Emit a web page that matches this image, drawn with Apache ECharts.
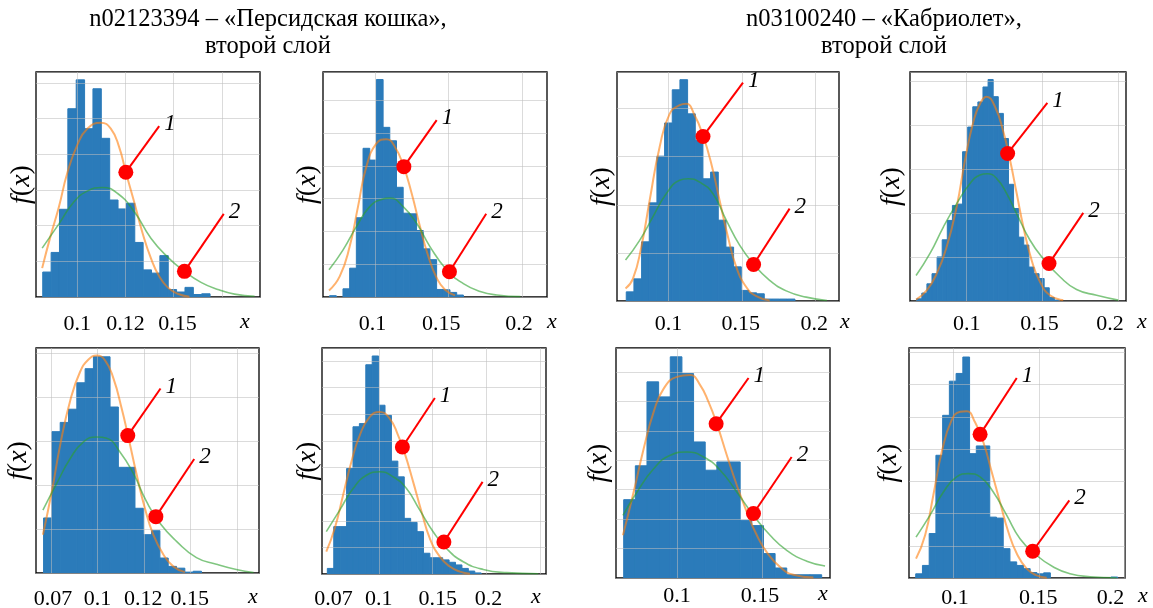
<!DOCTYPE html>
<html><head><meta charset="utf-8">
<script src="https://cdn.jsdelivr.net/npm/echarts@6/dist/echarts.min.js"></script>
<style>html,body{margin:0;padding:0;background:#fff}#c{width:1153px;height:608px}</style>
</head><body><div id="c"></div>
<script>
// ---------- titles ----------
const titleLeft = 'n02123394 – «Персидская кошка»,\nвторой слой';
const titleRight = 'n03100240 – «Кабриолет»,\nвторой слой';

// ---------- panel 1 ----------
const p1BinStart = 0.0821, p1BinWidth = 0.00434;
const p1Counts = [0.70,1.25,2.46,5.28,6.09,4.72,5.84,4.45,2.72,2.47,2.63,1.53,0.76,0.67,1.16,0.21,0.14,0.27,0.07,0.09];
const p1OrangeX = [0.0818,0.0861,0.0905,0.0948,0.1000,0.1052,0.1122,0.1174,0.1217,0.1252,0.1295,0.1339,0.1382,0.1425,0.1469,0.1521,0.1582];
const p1OrangeY = [0.81,1.70,2.53,3.47,4.26,4.72,4.89,4.72,4.21,3.50,2.67,1.79,1.09,0.58,0.27,0.09,0.01];
const p1GreenX = [0.0818,0.0905,0.0983,0.1052,0.1130,0.1208,0.1295,0.1382,0.1469,0.1556,0.1642,0.1729,0.1816,0.1920];
const p1GreenY = [1.37,2.05,2.67,2.97,3.07,2.91,2.40,1.65,1.12,0.72,0.41,0.21,0.08,0.02];
const p1Marker1 = [0.1252,3.50], p1Label1 = [0.1425,4.79], p1Marker2 = [0.1556,0.72], p1Label2 = [0.1760,2.33];
const p1TickValues = [0.1,0.125,0.152], p1TickLabels = ['0.1','0.12','0.15'], p1GridX = [0.1,0.125,0.15,0.175];

// ---------- panel 2 ----------
const p2BinStart = 0.0687, p2BinWidth = 0.004566;
const p2Counts = [0.04,0,0.25,0.88,2.42,4.54,4.18,6.64,5.18,4.77,3.35,2.56,2.54,2.03,1.47,1.14,0.23,0.22,0.14,0.06];
const p2OrangeX = [0.0683,0.0756,0.0824,0.0881,0.0938,0.1007,0.1075,0.1132,0.1189,0.1247,0.1304,0.1361,0.1418,0.1475,0.1543];
const p2OrangeY = [0.20,0.63,1.54,2.76,3.98,4.69,4.82,4.59,4.03,3.17,2.15,1.24,0.58,0.22,0.05];
const p2GreenX = [0.0683,0.0779,0.0870,0.0961,0.1041,0.1098,0.1189,0.1281,0.1372,0.1486,0.1600,0.1715,0.1829,0.1989];
const p2GreenY = [0.83,1.44,2.15,2.76,2.98,3.02,2.76,2.25,1.54,0.83,0.41,0.17,0.06,0.01];
const p2Marker1 = [0.1194,3.98], p2Label1 = [0.1418,5.40], p2Marker2 = [0.1505,0.77], p2Label2 = [0.1756,2.54];
const p2TickValues = [0.098,0.145,0.198], p2TickLabels = ['0.1','0.15','0.2'], p2GridX = [0.1,0.15,0.2];

// ---------- panel 3 ----------
const p3BinStart = 0.0712, p3BinWidth = 0.005215;
const p3Counts = [0.19,0.46,1.23,2.04,3.01,3.70,4.39,4.60,3.89,3.34,2.54,2.68,1.68,1.12,0.71,0.22,0.17,0.15,0.04,0.04,0.04,0.04];
const p3OrangeX = [0.0707,0.0757,0.0814,0.0871,0.0939,0.1007,0.1075,0.1120,0.1177,0.1234,0.1290,0.1347,0.1404,0.1460,0.1528,0.1596,0.1687];
const p3OrangeY = [0.26,0.46,1.12,2.09,3.20,3.89,4.07,4.10,3.86,3.44,2.86,2.09,1.33,0.71,0.29,0.10,0.01];
const p3GreenX = [0.0707,0.0803,0.0893,0.0984,0.1075,0.1132,0.1211,0.1302,0.1392,0.1483,0.1574,0.1687,0.1800,0.1936,0.2077];
const p3GreenY = [0.85,1.26,1.75,2.23,2.51,2.54,2.47,2.23,1.68,1.16,0.78,0.43,0.21,0.08,0.01];
const p3Marker1 = [0.1234,3.42], p3Label1 = [0.1506,4.54], p3Marker2 = [0.1578,0.76], p3Label2 = [0.1823,1.92];
const p3TickValues = [0.1,0.149,0.199], p3TickLabels = ['0.1','0.15','0.2'], p3GridX = [0.1,0.15,0.2];

// ---------- panel 4 ----------
const p4BinStart = 0.06703, p4BinWidth = 0.003363;
const p4Counts = [0.05,0.18,0.39,0.62,1.00,1.39,1.83,2.17,2.20,3.39,3.95,4.41,4.52,4.86,5.03,4.64,4.26,3.69,2.65,2.10,1.45,1.27,0.77,0.62,0.51,0.30,0.08,0.02];
const p4OrangeX = [0.0666,0.0736,0.0802,0.0868,0.0934,0.0989,0.1044,0.1088,0.1132,0.1187,0.1242,0.1286,0.1330,0.1374,0.1429,0.1484,0.1549,0.1637];
const p4OrangeY = [0.03,0.24,0.62,1.23,2.14,3.20,4.07,4.48,4.64,4.41,3.84,3.20,2.44,1.68,0.92,0.43,0.13,0.02];
const p4GreenX = [0.0666,0.0758,0.0846,0.0934,0.1022,0.1088,0.1136,0.1198,0.1264,0.1330,0.1418,0.1505,0.1615,0.1725,0.1857,0.2000];
const p4GreenY = [0.58,1.08,1.68,2.21,2.67,2.86,2.89,2.78,2.44,1.98,1.38,0.96,0.55,0.26,0.13,0.02];
const p4Marker1 = [0.1270,3.35], p4Label1 = [0.1532,4.50], p4Marker2 = [0.1543,0.85], p4Label2 = [0.1769,2.00];
const p4TickValues = [0.1,0.148,0.1945], p4TickLabels = ['0.1','0.15','0.2'], p4GridX = [0.1,0.15,0.2];

// ---------- panel 5 ----------
const p5BinStart = 0.07107, p5BinWidth = 0.004464;
const p5Counts = [1.25,3.21,3.42,3.72,4.32,4.64,4.91,4.91,3.77,2.40,2.40,1.47,0.87,0.96,0.34,0.15,0.11,0.02,0.04];
const p5OrangeX = [0.0707,0.0755,0.0800,0.0854,0.0907,0.0952,0.0996,0.1041,0.1086,0.1130,0.1166,0.1211,0.1255,0.1300,0.1354,0.1407,0.1470];
const p5OrangeY = [0.87,1.85,2.91,3.92,4.57,4.85,4.94,4.83,4.42,3.74,3.09,2.23,1.47,0.87,0.42,0.15,0.02];
const p5GreenX = [0.0707,0.0782,0.0854,0.0925,0.0996,0.1050,0.1121,0.1193,0.1264,0.1336,0.1425,0.1532,0.1639,0.1746,0.1839];
const p5GreenY = [1.43,2.04,2.60,2.98,3.09,3.06,2.75,2.26,1.62,1.13,0.72,0.35,0.20,0.08,0.01];
const p5Marker1 = [0.1163,3.12], p5Label1 = [0.1339,4.19], p5Marker2 = [0.1314,1.28], p5Label2 = [0.1520,2.59];
const p5TickValues = [0.0761,0.1,0.1246,0.1496], p5TickLabels = ['0.07','0.1','0.12','0.15'], p5GridX = [0.075,0.1,0.125,0.15,0.175];

// ---------- panel 6 ----------
const p6BinStart = 0.05217, p6BinWidth = 0.005963;
const p6Counts = [0.21,1.78,1.78,3.96,5.53,5.65,7.86,8.19,6.34,5.96,4.24,3.65,2.09,1.94,1.59,0.78,0.61,0.61,0.53,0.44,0.34,0.21,0.11,0.04];
const p6OrangeX = [0.0512,0.0590,0.0668,0.0745,0.0823,0.0916,0.1009,0.1102,0.1180,0.1242,0.1320,0.1398,0.1475,0.1568,0.1661,0.1755,0.1848];
const p6OrangeY = [0.84,1.71,2.96,4.21,5.21,5.90,6.09,5.84,5.21,4.53,3.46,2.34,1.34,0.65,0.28,0.09,0.01];
const p6GreenX = [0.0512,0.0637,0.0761,0.0885,0.1009,0.1134,0.1258,0.1382,0.1506,0.1630,0.1786,0.1972,0.2189,0.2484];
const p6GreenY = [1.59,2.40,3.21,3.71,3.84,3.65,3.21,2.40,1.59,0.96,0.46,0.17,0.05,0.01];
const p6Marker1 = [0.1220,4.77], p6Label1 = [0.1522,6.61], p6Marker2 = [0.1606,1.20], p6Label2 = [0.1966,3.46];
const p6TickValues = [0.058,0.1,0.155,0.202], p6TickLabels = ['0.07','0.1','0.15','0.2'], p6GridX = [0.1,0.15,0.2,0.25];

// ---------- panel 7 ----------
const p7BinStart = 0.06863, p7BinWidth = 0.006863;
const p7Counts = [2.66,3.81,6.66,6.15,7.51,6.94,4.62,3.66,3.94,3.94,1.96,1.78,0.83,0.34,0.11,0.11,0.11];
const p7OrangeX = [0.0682,0.0745,0.0804,0.0863,0.0922,0.1000,0.1078,0.1137,0.1186,0.1235,0.1294,0.1353,0.1412,0.1471,0.1529,0.1608,0.1686,0.1804];
const p7OrangeY = [1.45,2.92,4.39,5.64,6.43,6.83,6.89,6.55,5.98,5.24,4.17,3.15,2.24,1.45,0.88,0.37,0.11,0.02];
const p7GreenX = [0.0682,0.0765,0.0863,0.0961,0.1059,0.1157,0.1255,0.1353,0.1451,0.1549,0.1647,0.1765,0.1873];
const p7GreenY = [2.13,2.92,3.71,4.17,4.28,4.11,3.66,2.92,2.13,1.45,0.94,0.57,0.41];
const p7Marker1 = [0.1231,5.24], p7Label1 = [0.1422,6.79], p7Marker2 = [0.1451,2.19], p7Label2 = [0.1676,4.11];
const p7TickValues = [0.1,0.149], p7TickLabels = ['0.1','0.15'], p7GridX = [0.1,0.15];

// ---------- panel 8 ----------
const p8BinStart = 0.07802, p8BinWidth = 0.00393;
const p8Counts = [0.13,0.39,1.38,3.81,5.05,6.11,6.35,6.86,3.86,4.10,4.10,1.89,1.86,0.91,0.50,0.39,0.29,0.17,0.13,0.16,0,0,0,0,0,0,0,0,0,0.03];
const p8OrangeX = [0.0782,0.0835,0.0883,0.0932,0.0990,0.1039,0.1078,0.1126,0.1175,0.1224,0.1272,0.1321,0.1370,0.1428,0.1486,0.1545];
const p8OrangeY = [0.60,1.33,2.57,3.91,4.90,5.16,5.18,4.84,4.22,3.29,2.36,1.43,0.76,0.29,0.08,0.01];
const p8GreenX = [0.0782,0.0864,0.0942,0.1019,0.1088,0.1156,0.1233,0.1311,0.1389,0.1486,0.1584,0.1681,0.1798,0.1953];
const p8GreenY = [1.27,1.95,2.67,3.14,3.24,3.14,2.67,1.95,1.22,0.70,0.34,0.13,0.04,0.01];
const p8Marker1 = [0.1156,4.46], p8Label1 = [0.1370,6.21], p8Marker2 = [0.1463,0.83], p8Label2 = [0.1677,2.41];
const p8TickValues = [0.101,0.1496,0.1918], p8TickLabels = ['0.1','0.15','0.2'], p8GridX = [0.1,0.15,0.2];

// ---------- layout (pixels & axis ranges) ----------
const LAYOUT = [
  {left:36,  top:72,  width:224, height:225, xMin:0.0786, xMax:0.1948, yMax:6.31, margin:16, xGap:-20, xPad:14, yGap:0},
  {left:323, top:72,  width:224, height:225, xMin:0.0642, xMax:0.2171, yMax:6.87, margin:16, xGap:0,   xPad:14, yGap:1},
  {left:617, top:72,  width:222, height:229, xMin:0.0649, xMax:0.2159, yMax:4.76, margin:12, xGap:1,   xPad:10, yGap:1},
  {left:910, top:72,  width:216, height:229, xMin:0.0626, xMax:0.2051, yMax:5.20, margin:12, xGap:11,  xPad:10, yGap:4},
  {left:36,  top:348, width:223, height:225, xMin:0.0670, xMax:0.1868, yMax:5.11, margin:15, xGap:-11, xPad:13, yGap:3},
  {left:322, top:348, width:224, height:226, xMin:0.0472, xMax:0.2556, yMax:8.49, margin:14, xGap:-15, xPad:12, yGap:0},
  {left:616, top:348, width:214, height:230, xMin:0.0641, xMax:0.1902, yMax:7.81, margin:7,  xGap:-12, xPad:5,  yGap:3},
  {left:909, top:348, width:216, height:230, xMin:0.0741, xMax:0.2002, yMax:7.14, margin:9,  xGap:13,  xPad:7,  yGap:6}
];

const PANELS = [
  {bs:p1BinStart,bw:p1BinWidth,counts:p1Counts,ox:p1OrangeX,oy:p1OrangeY,gx:p1GreenX,gy:p1GreenY,m1:p1Marker1,l1:p1Label1,m2:p1Marker2,l2:p1Label2,tv:p1TickValues,tl:p1TickLabels,grid:p1GridX},
  {bs:p2BinStart,bw:p2BinWidth,counts:p2Counts,ox:p2OrangeX,oy:p2OrangeY,gx:p2GreenX,gy:p2GreenY,m1:p2Marker1,l1:p2Label1,m2:p2Marker2,l2:p2Label2,tv:p2TickValues,tl:p2TickLabels,grid:p2GridX},
  {bs:p3BinStart,bw:p3BinWidth,counts:p3Counts,ox:p3OrangeX,oy:p3OrangeY,gx:p3GreenX,gy:p3GreenY,m1:p3Marker1,l1:p3Label1,m2:p3Marker2,l2:p3Label2,tv:p3TickValues,tl:p3TickLabels,grid:p3GridX},
  {bs:p4BinStart,bw:p4BinWidth,counts:p4Counts,ox:p4OrangeX,oy:p4OrangeY,gx:p4GreenX,gy:p4GreenY,m1:p4Marker1,l1:p4Label1,m2:p4Marker2,l2:p4Label2,tv:p4TickValues,tl:p4TickLabels,grid:p4GridX},
  {bs:p5BinStart,bw:p5BinWidth,counts:p5Counts,ox:p5OrangeX,oy:p5OrangeY,gx:p5GreenX,gy:p5GreenY,m1:p5Marker1,l1:p5Label1,m2:p5Marker2,l2:p5Label2,tv:p5TickValues,tl:p5TickLabels,grid:p5GridX},
  {bs:p6BinStart,bw:p6BinWidth,counts:p6Counts,ox:p6OrangeX,oy:p6OrangeY,gx:p6GreenX,gy:p6GreenY,m1:p6Marker1,l1:p6Label1,m2:p6Marker2,l2:p6Label2,tv:p6TickValues,tl:p6TickLabels,grid:p6GridX},
  {bs:p7BinStart,bw:p7BinWidth,counts:p7Counts,ox:p7OrangeX,oy:p7OrangeY,gx:p7GreenX,gy:p7GreenY,m1:p7Marker1,l1:p7Label1,m2:p7Marker2,l2:p7Label2,tv:p7TickValues,tl:p7TickLabels,grid:p7GridX},
  {bs:p8BinStart,bw:p8BinWidth,counts:p8Counts,ox:p8OrangeX,oy:p8OrangeY,gx:p8GreenX,gy:p8GreenY,m1:p8Marker1,l1:p8Label1,m2:p8Marker2,l2:p8Label2,tv:p8TickValues,tl:p8TickLabels,grid:p8GridX}
];

const FONT = '"Liberation Serif", "Times New Roman", serif';
const BAR_COLOR = '#2b7bba';
const GRID_COLOR = 'rgba(190,190,190,0.55)';

function zip(xs, ys) { return xs.map((x, i) => [x, ys[i]]); }

function renderHist(params, api) {
  const x0 = api.value(0), x1 = api.value(1), h = api.value(2);
  if (!(h > 0)) return null;
  const a = api.coord([x0, h]);
  const b = api.coord([x1, 0]);
  return {
    type: 'rect',
    shape: {x: a[0], y: a[1], width: b[0] - a[0], height: b[1] - a[1]},
    style: {fill: BAR_COLOR, stroke: BAR_COLOR, lineWidth: 1}
  };
}

const grids = [], xAxes = [], yAxes = [], series = [];
PANELS.forEach((p, i) => {
  const L = LAYOUT[i];
  grids.push({left: L.left, top: L.top, width: L.width, height: L.height, show: true,
    borderColor: '#000', borderWidth: 1.3, backgroundColor: 'transparent', containLabel: false, outerBoundsMode: 'none'});
  xAxes.push({
    type: 'value', gridIndex: i, min: L.xMin, max: L.xMax, z: 3,
    axisLine: {show: false},
    axisTick: {show: false, customValues: p.grid},
    splitLine: {show: true, lineStyle: {color: GRID_COLOR, width: 1}},
    axisLabel: {
      customValues: p.tv, margin: L.margin, fontFamily: FONT, fontSize: 22, color: '#000',
      formatter: (v) => { const k = p.tv.findIndex(t => Math.abs(t - v) < 1e-9); return k >= 0 ? p.tl[k] : ''; }
    },
    name: 'x', nameLocation: 'end', nameGap: L.xGap,
    nameTextStyle: {fontFamily: FONT, fontStyle: 'italic', fontSize: 22, color: '#000', verticalAlign: 'top', align: 'left', padding: [L.xPad, 0, 0, 0]}
  });
  yAxes.push({
    type: 'value', gridIndex: i, min: 0, max: L.yMax, interval: 1, z: 3,
    axisLine: {show: false}, axisTick: {show: false}, axisLabel: {show: false},
    splitLine: {show: true, lineStyle: {color: GRID_COLOR, width: 1}},
    name: '{i|f}({i|x})', nameLocation: 'middle', nameGap: L.yGap,
    nameTextStyle: {fontFamily: FONT, fontSize: 28, color: '#000',
      rich: {i: {fontFamily: FONT, fontSize: 28, fontStyle: 'italic', color: '#000'}}}
  });
  const histData = p.counts.map((h, k) => [p.bs + k * p.bw, p.bs + (k + 1) * p.bw, h]);
  series.push({type: 'custom', xAxisIndex: i, yAxisIndex: i, z: 2, silent: true,
    renderItem: renderHist, encode: {x: [0, 1], y: 2}, data: histData, clip: true});
  series.push({type: 'line', xAxisIndex: i, yAxisIndex: i, z: 4, silent: true, smooth: 0.5,
    showSymbol: false, symbol: 'none', data: zip(p.ox, p.oy),
    lineStyle: {color: '#ff7f0e', opacity: 0.6, width: 2}});
  series.push({type: 'line', xAxisIndex: i, yAxisIndex: i, z: 4, silent: true, smooth: 0.5,
    showSymbol: false, symbol: 'none', data: zip(p.gx, p.gy),
    lineStyle: {color: '#2ca02c', opacity: 0.6, width: 1.6}});
  [[p.m1, p.l1, '1'], [p.m2, p.l2, '2']].forEach(([m, l, txt]) => {
    series.push({type: 'line', xAxisIndex: i, yAxisIndex: i, z: 5, silent: true,
      symbol: 'none', data: [m, l], lineStyle: {color: '#ff0000', width: 2},
      endLabel: {show: true, formatter: txt, distance: 5, offset: [0, -2],
        fontFamily: FONT, fontStyle: 'italic', fontSize: 23, color: '#000'}});
  });
  series.push({type: 'scatter', xAxisIndex: i, yAxisIndex: i, z: 6, silent: true,
    symbol: 'circle', symbolSize: 15, data: [p.m1, p.m2], itemStyle: {color: '#ff0000', opacity: 1}});
});

const titleStyle = {fontFamily: FONT, fontSize: 24.5, fontWeight: 'normal', color: '#000', lineHeight: 27};
const option = {
  animation: false,
  backgroundColor: '#fff',
  title: [
    {text: titleLeft, left: 268, top: 6, padding: 0, textAlign: 'center', textStyle: titleStyle},
    {text: titleRight, left: 884, top: 6, padding: 0, textAlign: 'center', textStyle: titleStyle}
  ],
  grid: grids, xAxis: xAxes, yAxis: yAxes, series: series
};
const chart = echarts.init(document.getElementById('c'), null, {renderer: 'canvas'});
chart.setOption(option);
</script></body></html>
